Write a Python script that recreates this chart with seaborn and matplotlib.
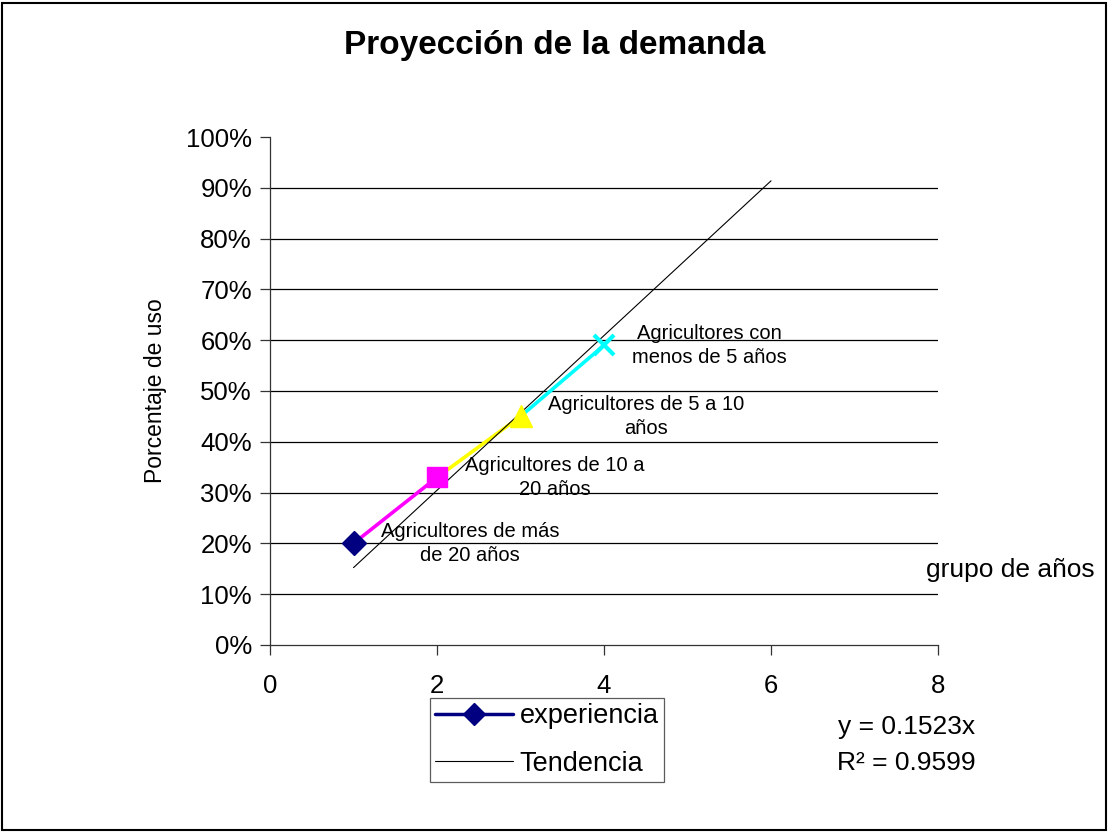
import matplotlib
matplotlib.use("Agg")
import matplotlib.pyplot as plt
from matplotlib.lines import Line2D
from matplotlib.patches import Rectangle
import numpy as np
import seaborn as sns

# data
grupo = [1, 2, 3, 4]
uso = [0.20, 0.33, 0.45, 0.59]
etiquetas = ["Agricultores de más\nde 20 años",
             "Agricultores de 10 a\n20 años",
             "Agricultores de 5 a 10\naños",
             "Agricultores con\nmenos de 5 años"]
colores_punto = ["#000080", "#FF00FF", "#FFFF00", "#00FFFF"]
marcadores = ["D", "s", "^", "x"]
colores_tramo = ["#FF00FF", "#FFFF00", "#00FFFF"]

# trend line  y = 0.1523x
pendiente = 0.1523
r2 = 0.9599
tendencia_x = [1, 6]
y_ticks = [0, 0.1, 0.2, 0.3, 0.4, 0.5, 0.6, 0.7, 0.8, 0.9, 1.0]
x_ticks = [0, 2, 4, 6, 8]

sns.set_style("white")
plt.rcParams["font.family"] = ["Liberation Sans", "DejaVu Sans"]
plt.rcParams["text.color"] = "black"
plt.rcParams["axes.labelcolor"] = "black"

fig = plt.figure(figsize=(11.08, 8.32), dpi=100)
ax = fig.add_axes([0.2437, 0.2248, 0.6029, 0.6105])

# horizontal grid lines (not at 0 and 100%)
for yv in y_ticks[1:-1]:
    ax.axhline(yv, color="black", lw=0.9, zorder=0)

# coloured segments between points
for i in range(len(grupo) - 1):
    sns.lineplot(x=grupo[i:i + 2], y=uso[i:i + 2], color=colores_tramo[i],
                 lw=2.6, ax=ax, zorder=2)

# trend line
tx = np.array(tendencia_x)
sns.lineplot(x=tx, y=pendiente * tx, color="black", lw=0.8, ax=ax, zorder=3)

# markers
sizes = [12, 15, 16, 15]
for xv, yv, c, m, s in zip(grupo, uso, colores_punto, marcadores, sizes):
    ax.plot([xv], [yv], marker=m, color=c, ms=s, mew=3 if m == "x" else 1,
            mec=c, ls="none", zorder=4)

# point labels
for xv, yv, t in zip(grupo, uso, etiquetas):
    ax.text(xv + 0.33, yv, t, ha="left", va="center", multialignment="center",
            fontsize=14.5, color="black", zorder=5, linespacing=1.3)

ax.set_xlim(0, 8)
ax.set_ylim(0, 1.0)
ax.set_xticks(x_ticks)
ax.set_yticks(y_ticks)
ax.set_xticklabels([str(v) for v in x_ticks], fontsize=18.5)
ax.set_yticklabels([f"{int(round(v * 100))}%" for v in y_ticks], fontsize=18.5)
ax.tick_params(axis="both", direction="out", length=7, width=0.9,
               color="#333333", labelcolor="black", pad=6,
               left=True, bottom=True)
ax.tick_params(axis="x", pad=14)
for side in ["top", "right"]:
    ax.spines[side].set_visible(False)
for side in ["left", "bottom"]:
    ax.spines[side].set_color("#333333")
    ax.spines[side].set_linewidth(0.9)

ax.set_ylabel("Porcentaje de uso", fontsize=16.5, labelpad=14)

fig.text(0.501, 0.945, "Proyección de la demanda", ha="center", va="center",
         fontsize=24, fontweight="bold")
fig.text(0.912, 0.315, "grupo de años", ha="center", va="center", fontsize=19)
fig.text(0.818, 0.126, "y = 0.1523x", ha="center", va="center", fontsize=19)
fig.text(0.818, 0.083, f"R² = {r2}", ha="center", va="center", fontsize=19)

handles = [Line2D([0], [0], color="#000080", lw=2.5, marker="D", ms=11),
           Line2D([0], [0], color="black", lw=0.8)]
leg = fig.legend(handles, ["experiencia", "Tendencia"], loc="lower left",
                 bbox_to_anchor=(0.388, 0.06), fontsize=19.5, fancybox=False,
                 frameon=True, handlelength=2.85, handletextpad=0.26,
                 borderpad=0.2, labelspacing=0.8, borderaxespad=0)
leg.get_frame().set_edgecolor("#333333")
leg.get_frame().set_linewidth(0.9)

fig.patches.append(Rectangle((0.002, 0.003), 0.996, 0.993, fill=False,
                             edgecolor="black", lw=1.5,
                             transform=fig.transFigure, figure=fig))

fig.savefig("out.png", dpi=100)
